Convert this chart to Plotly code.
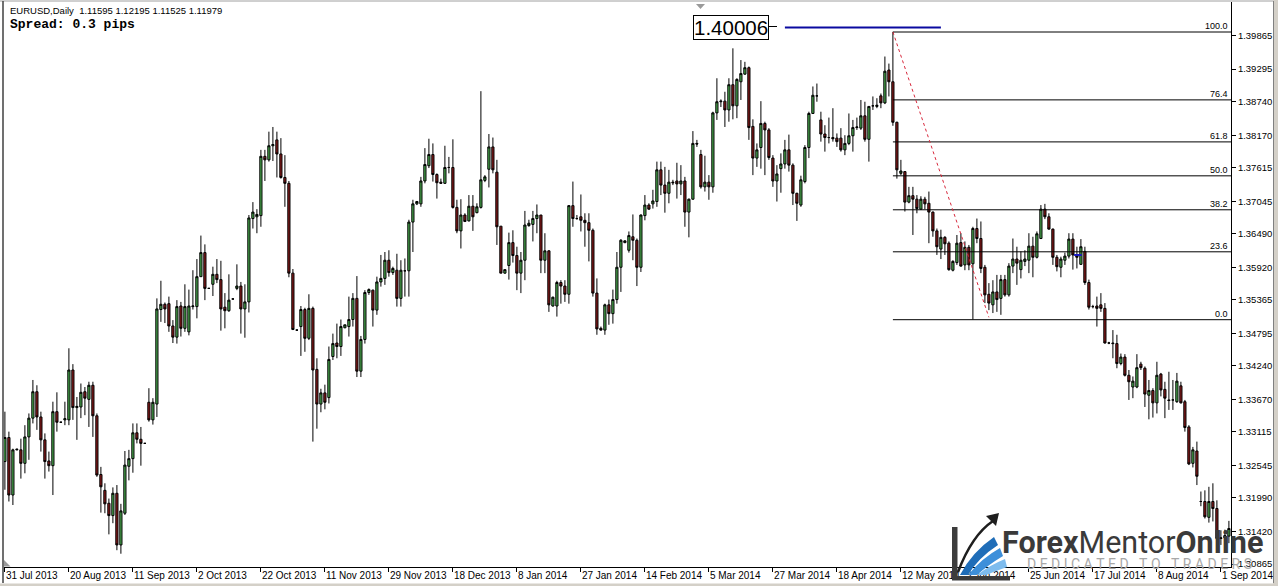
import plotly.graph_objects as go

# ---------------- data (EURUSD daily) ----------------
open_ = [
1.3261,1.3302,1.3204,1.3281,1.3281,1.3258,1.3303,1.3335,1.3380,1.3337,
1.3298,1.3262,1.3254,1.3346,1.3328,1.3332,1.3332,1.3417,1.3353,1.3354,
1.3380,1.3367,1.3391,1.3339,1.3239,1.3212,1.3190,1.3169,1.3207,1.3119,
1.3173,1.3253,1.3266,1.3310,1.3299,1.3292,1.3362,1.3332,1.3359,1.3520,
1.3529,1.3530,1.3492,1.3473,1.3526,1.3488,1.3482,1.3525,1.3525,1.3576,
1.3617,1.3556,1.3563,1.3580,1.3571,1.3524,1.3518,1.3538,1.3556,1.3560,
1.3521,1.3533,1.3675,1.3678,1.3680,1.3781,1.3775,1.3799,1.3809,1.3785,
1.3745,1.3735,1.3582,1.3485,1.3491,1.3520,1.3471,1.3522,1.3418,1.3359,
1.3378,1.3370,1.3440,1.3463,1.3457,1.3489,1.3491,1.3503,1.3539,1.3415,
1.3469,1.3549,1.3553,1.3519,1.3567,1.3573,1.3604,1.3583,1.3587,1.3539,
1.3586,1.3586,1.3669,1.3700,1.3700,1.3739,1.3765,1.3784,1.3750,1.3737,
1.3735,1.3762,1.3762,1.3694,1.3654,1.3681,1.3671,1.3696,1.3685,1.3694,
1.3740,1.3759,1.3797,1.3754,1.3662,1.3582,1.3595,1.3634,1.3612,1.3582,
1.3604,1.3663,1.3665,1.3675,1.3681,1.3604,1.3620,1.3526,1.3526,1.3566,
1.3560,1.3546,1.3697,1.3675,1.3678,1.3672,1.3668,1.3655,1.3548,1.3488,
1.3485,1.3528,1.3513,1.3537,1.3592,1.3634,1.3621,1.3644,1.3638,1.3592,
1.3680,1.3698,1.3700,1.3704,1.3758,1.3732,1.3718,1.3737,1.3739,1.3734,
1.3739,1.3686,1.3708,1.3803,1.3784,1.3729,1.3737,1.3729,1.3855,1.3874,
1.3875,1.3860,1.3903,1.3867,1.3908,1.3921,1.3932,1.3832,1.3778,1.3796,
1.3837,1.3826,1.3778,1.3739,1.3760,1.3768,1.3792,1.3766,1.3718,1.3698,
1.3738,1.3796,1.3854,1.3884,1.3843,1.3819,1.3813,1.3813,1.3812,1.3812,
1.3792,1.3803,1.3816,1.3830,1.3829,1.3850,1.3810,1.3867,1.3866,1.3884,
1.3872,1.3928,1.3908,1.3839,1.3752,1.3755,1.3703,1.3714,1.3708,1.3691,
1.3708,1.3701,1.3686,1.3654,1.3623,1.3643,1.3633,1.3587,1.3600,1.3634,
1.3596,1.3626,1.3598,1.3658,1.3641,1.3592,1.3546,1.3528,1.3550,1.3539,
1.3571,1.3545,1.3594,1.3606,1.3588,1.3602,1.3604,1.3628,1.3609,1.3641,
1.3691,1.3678,1.3657,1.3609,1.3592,1.3604,1.3611,1.3640,1.3613,1.3597,
1.3619,1.3566,1.3525,1.3526,1.3528,1.3522,1.3463,1.3463,1.3462,1.3428,
1.3439,1.3408,1.3388,1.3388,1.3427,1.3420,1.3374,1.3382,1.3361,1.3410,
1.3384,1.3366,1.3366,1.3363,1.3390,1.3363,1.3320,1.3258,1.3279,1.3193,
1.3193,1.3166,1.3193,1.3181,1.3130,1.3131,1.3134]

high = [
1.3346,1.3312,1.3283,1.3283,1.3300,1.3323,1.3343,1.3400,1.3391,1.3346,
1.3309,1.3278,1.3363,1.3379,1.3329,1.3363,1.3454,1.3427,1.3371,1.3394,
1.3388,1.3397,1.3397,1.3343,1.3252,1.3224,1.3198,1.3217,1.3221,1.3189,
1.3279,1.3281,1.3326,1.3326,1.3320,1.3293,1.3386,1.3369,1.3539,1.3569,
1.3532,1.3542,1.3502,1.3536,1.3533,1.3563,1.3554,1.3587,1.3606,1.3646,
1.3631,1.3557,1.3593,1.3606,1.3603,1.3548,1.3580,1.3539,1.3597,1.3567,
1.3563,1.3681,1.3703,1.3691,1.3792,1.3792,1.3823,1.3831,1.3823,1.3812,
1.3783,1.3739,1.3589,1.3486,1.3526,1.3523,1.3546,1.3525,1.3437,1.3385,
1.3392,1.3457,1.3479,1.3496,1.3503,1.3494,1.3542,1.3548,1.3577,1.3475,
1.3553,1.3556,1.3554,1.3576,1.3613,1.3618,1.3621,1.3593,1.3615,1.3604,
1.3607,1.3673,1.3707,1.3705,1.3746,1.3795,1.3811,1.3803,1.3752,1.3743,
1.3799,1.3780,1.3810,1.3707,1.3708,1.3684,1.3715,1.3715,1.3701,1.3892,
1.3749,1.3819,1.3813,1.3775,1.3662,1.3588,1.3651,1.3655,1.3627,1.3618,
1.3688,1.3673,1.3688,1.3699,1.3681,1.3650,1.3621,1.3542,1.3569,1.3570,
1.3570,1.3698,1.3738,1.3681,1.3716,1.3684,1.3684,1.3658,1.3573,1.3491,
1.3530,1.3537,1.3554,1.3618,1.3640,1.3638,1.3653,1.3682,1.3641,1.3682,
1.3715,1.3701,1.3724,1.3772,1.3772,1.3763,1.3758,1.3741,1.3770,1.3766,
1.3746,1.3709,1.3824,1.3809,1.3792,1.3782,1.3749,1.3857,1.3914,1.3878,
1.3891,1.3914,1.3965,1.3914,1.3945,1.3942,1.3934,1.3844,1.3803,1.3875,
1.3840,1.3829,1.3783,1.3766,1.3786,1.3809,1.3818,1.3769,1.3719,1.3748,
1.3800,1.3857,1.3900,1.3905,1.3857,1.3834,1.3847,1.3863,1.3820,1.3829,
1.3817,1.3854,1.3843,1.3847,1.3877,1.3874,1.3866,1.3883,1.3880,1.3888,
1.3951,1.3939,1.3993,1.3840,1.3775,1.3755,1.3729,1.3729,1.3715,1.3713,
1.3712,1.3721,1.3687,1.3658,1.3656,1.3645,1.3636,1.3604,1.3647,1.3650,
1.3636,1.3630,1.3661,1.3675,1.3670,1.3596,1.3565,1.3570,1.3579,1.3579,
1.3579,1.3599,1.3641,1.3627,1.3619,1.3621,1.3650,1.3644,1.3653,1.3698,
1.3700,1.3684,1.3658,1.3613,1.3610,1.3617,1.3650,1.3650,1.3627,1.3640,
1.3627,1.3571,1.3528,1.3542,1.3548,1.3531,1.3465,1.3485,1.3477,1.3445,
1.3444,1.3417,1.3406,1.3444,1.3431,1.3423,1.3400,1.3386,1.3431,1.3412,
1.3397,1.3414,1.3400,1.3412,1.3397,1.3366,1.3323,1.3286,1.3295,1.3210,
1.3212,1.3218,1.3224,1.3195,1.3144,1.3145,1.3160]

low = [
1.3213,1.3193,1.3187,1.3280,1.3232,1.3241,1.3264,1.3326,1.3315,1.3278,
1.3232,1.3244,1.3204,1.3312,1.3327,1.3323,1.3323,1.3332,1.3298,1.3335,
1.3340,1.3320,1.3303,1.3235,1.3174,1.3173,1.3137,1.3156,1.3110,1.3104,
1.3170,1.3229,1.3242,1.3292,1.3254,1.3291,1.3329,1.3324,1.3337,1.3499,
1.3497,1.3482,1.3463,1.3462,1.3474,1.3482,1.3476,1.3520,1.3505,1.3576,
1.3536,1.3555,1.3543,1.3565,1.3484,1.3488,1.3516,1.3537,1.3553,1.3479,
1.3472,1.3515,1.3658,1.3650,1.3661,1.3739,1.3772,1.3773,1.3745,1.3743,
1.3695,1.3575,1.3485,1.3484,1.3441,1.3448,1.3468,1.3295,1.3317,1.3345,
1.3350,1.3360,1.3434,1.3437,1.3441,1.3488,1.3474,1.3491,1.3405,1.3405,
1.3462,1.3545,1.3491,1.3511,1.3559,1.3562,1.3576,1.3579,1.3525,1.3525,
1.3542,1.3542,1.3618,1.3698,1.3695,1.3735,1.3761,1.3738,1.3709,1.3735,
1.3734,1.3752,1.3692,1.3650,1.3624,1.3669,1.3670,1.3654,1.3684,1.3692,
1.3737,1.3728,1.3752,1.3630,1.3582,1.3581,1.3571,1.3600,1.3553,1.3548,
1.3570,1.3661,1.3636,1.3650,1.3582,1.3582,1.3516,1.3525,1.3508,1.3530,
1.3533,1.3530,1.3661,1.3673,1.3653,1.3627,1.3602,1.3542,1.3477,1.3484,
1.3477,1.3494,1.3496,1.3530,1.3550,1.3633,1.3617,1.3604,1.3560,1.3584,
1.3672,1.3690,1.3692,1.3695,1.3715,1.3685,1.3701,1.3732,1.3709,1.3715,
1.3661,1.3643,1.3707,1.3797,1.3726,1.3721,1.3707,1.3719,1.3843,1.3865,
1.3831,1.3840,1.3844,1.3846,1.3877,1.3920,1.3809,1.3749,1.3763,1.3760,
1.3749,1.3775,1.3729,1.3704,1.3719,1.3760,1.3755,1.3698,1.3671,1.3695,
1.3735,1.3778,1.3854,1.3874,1.3806,1.3789,1.3803,1.3806,1.3797,1.3789,
1.3783,1.3800,1.3789,1.3826,1.3826,1.3806,1.3772,1.3860,1.3863,1.3863,
1.3870,1.3883,1.3833,1.3743,1.3749,1.3687,1.3701,1.3647,1.3684,1.3690,
1.3691,1.3633,1.3644,1.3613,1.3606,1.3613,1.3586,1.3585,1.3596,1.3593,
1.3587,1.3587,1.3503,1.3633,1.3582,1.3531,1.3519,1.3514,1.3516,1.3511,
1.3542,1.3542,1.3582,1.3562,1.3573,1.3594,1.3582,1.3575,1.3607,1.3640,
1.3674,1.3656,1.3596,1.3585,1.3575,1.3596,1.3607,1.3588,1.3590,1.3596,
1.3562,1.3520,1.3522,1.3491,1.3516,1.3462,1.3461,1.3437,1.3420,1.3425,
1.3406,1.3366,1.3369,1.3386,1.3417,1.3354,1.3333,1.3336,1.3343,1.3372,
1.3335,1.3349,1.3349,1.3361,1.3360,1.3312,1.3255,1.3251,1.3221,1.3185,
1.3164,1.3157,1.3159,1.3128,1.3119,1.3120,1.3122]

close = [
1.3302,1.3204,1.3281,1.3282,1.3258,1.3303,1.3335,1.3380,1.3337,1.3298,
1.3261,1.3254,1.3346,1.3328,1.3328,1.3334,1.3417,1.3353,1.3355,1.3379,
1.3369,1.3391,1.3339,1.3238,1.3218,1.3189,1.3169,1.3207,1.3119,1.3177,
1.3255,1.3266,1.3310,1.3299,1.3292,1.3292,1.3332,1.3362,1.3521,1.3529,
1.3521,1.3492,1.3473,1.3525,1.3488,1.3525,1.3526,1.3526,1.3576,1.3617,
1.3556,1.3556,1.3580,1.3571,1.3521,1.3518,1.3536,1.3538,1.3560,1.3521,
1.3533,1.3676,1.3686,1.3682,1.3781,1.3775,1.3799,1.3801,1.3785,1.3745,
1.3735,1.3582,1.3486,1.3485,1.3520,1.3471,1.3522,1.3417,1.3359,1.3378,
1.3362,1.3435,1.3462,1.3457,1.3491,1.3494,1.3503,1.3539,1.3415,1.3469,
1.3549,1.3554,1.3519,1.3567,1.3573,1.3604,1.3583,1.3590,1.3539,1.3587,
1.3586,1.3669,1.3700,1.3704,1.3739,1.3767,1.3784,1.3750,1.3736,1.3735,
1.3762,1.3762,1.3694,1.3654,1.3681,1.3670,1.3696,1.3678,1.3695,1.3741,
1.3746,1.3797,1.3758,1.3661,1.3582,1.3588,1.3634,1.3612,1.3582,1.3604,
1.3664,1.3667,1.3675,1.3681,1.3604,1.3620,1.3528,1.3541,1.3566,1.3560,
1.3546,1.3697,1.3675,1.3675,1.3672,1.3668,1.3655,1.3548,1.3487,1.3485,
1.3528,1.3513,1.3537,1.3592,1.3638,1.3637,1.3646,1.3638,1.3592,1.3681,
1.3698,1.3691,1.3705,1.3758,1.3732,1.3718,1.3737,1.3736,1.3734,1.3739,
1.3686,1.3708,1.3803,1.3802,1.3729,1.3737,1.3729,1.3855,1.3874,1.3875,
1.3860,1.3903,1.3867,1.3912,1.3922,1.3932,1.3830,1.3778,1.3792,1.3837,
1.3826,1.3779,1.3739,1.3751,1.3768,1.3792,1.3766,1.3718,1.3701,1.3741,
1.3796,1.3854,1.3885,1.3884,1.3819,1.3813,1.3813,1.3811,1.3806,1.3792,
1.3803,1.3816,1.3830,1.3831,1.3850,1.3810,1.3866,1.3867,1.3868,1.3872,
1.3926,1.3908,1.3839,1.3758,1.3756,1.3703,1.3714,1.3708,1.3692,1.3708,
1.3700,1.3686,1.3654,1.3627,1.3643,1.3632,1.3588,1.3602,1.3633,1.3594,
1.3626,1.3596,1.3658,1.3641,1.3590,1.3545,1.3531,1.3550,1.3537,1.3571,
1.3545,1.3594,1.3606,1.3599,1.3604,1.3606,1.3628,1.3609,1.3649,1.3691,
1.3678,1.3657,1.3609,1.3593,1.3606,1.3611,1.3640,1.3613,1.3609,1.3627,
1.3566,1.3524,1.3525,1.3522,1.3522,1.3463,1.3463,1.3462,1.3428,1.3439,
1.3408,1.3397,1.3398,1.3421,1.3421,1.3376,1.3382,1.3361,1.3408,1.3383,
1.3369,1.3365,1.3366,1.3398,1.3361,1.3319,1.3257,1.3281,1.3236,1.3193,
1.3167,1.3193,1.3181,1.3130,1.3131,1.3135,1.3147]

date_labels = ["31 Jul 2013", "20 Aug 2013", "11 Sep 2013", "2 Oct 2013", "22 Oct 2013",
               "11 Nov 2013", "29 Nov 2013", "18 Dec 2013", "8 Jan 2014", "27 Jan 2014",
               "14 Feb 2014", "5 Mar 2014", "27 Mar 2014", "18 Apr 2014", "12 May 2014",
               "3 Jun 2014", "25 Jun 2014", "17 Jul 2014", "8 Aug 2014", "1 Sep 2014"]
label_step = 16

price_ticks = [1.39865, 1.39295, 1.38740, 1.38170, 1.37615, 1.37045, 1.36490, 1.35920,
               1.35365, 1.34795, 1.34240, 1.33670, 1.33115, 1.32545, 1.31990, 1.31420, 1.30865]

fib_high = 1.39928
fib_low = 1.35027
fib_ratios = [100.0, 76.4, 61.8, 50.0, 38.2, 23.6, 0.0]
fib_start_bar = 222
fib_end_bar = 246

hline_price = 1.40006
hline_bars = [195, 234]

header_text = "EURUSD,Daily  1.11595 1.12195 1.11525 1.11979"
spread_text = "Spread: 0.3 pips"
logo_text = "<b>Forex</b>Mentor<b>Online</b>"
tagline_words = ["DEDICATED", "TO", "TRADERS"]

# ---------------- geometry helpers (pixel -> paper) ----------------
W, H = 1278, 586
ML, MR, MT, MB = 4, 47, 2, 19
PW = W - ML - MR
PH = H - MT - MB


def fx(px):
    return (px - ML) / PW


def fy(py):
    return (H - MB - py) / PH


n = len(close)
xs = list(range(n))

fig = go.Figure()
fig.add_trace(go.Candlestick(
    x=xs, open=open_, high=high, low=low, close=close,
    increasing=dict(line=dict(color="#000000", width=1), fillcolor="#4CB050"),
    decreasing=dict(line=dict(color="#000000", width=1), fillcolor="#8B1A1A"),
    whiskerwidth=0, hoverinfo="skip", showlegend=False,
))

shapes = []
annotations = []

# Fibonacci levels
span = fib_high - fib_low
for r in fib_ratios:
    p = fib_low + span * r / 100.0
    shapes.append(dict(type="line", xref="x", yref="y", x0=fib_start_bar, x1=306.6,
                       y0=p, y1=p, line=dict(color="#000000", width=1)))
    annotations.append(dict(xref="x", yref="y", x=306.3, y=p, text=f"{r:.1f}",
                            xanchor="right", yanchor="bottom", showarrow=False,
                            font=dict(family="Liberation Sans, Arial", size=9, color="#000000"),
                            yshift=-1))
# fib trend line (red dotted)
shapes.append(dict(type="line", xref="x", yref="y", x0=fib_start_bar, y0=fib_high,
                   x1=fib_end_bar, y1=fib_low + 0.0004,
                   line=dict(color="#D8283C", width=1, dash="dot")))

# blue horizontal line + price label
shapes.append(dict(type="line", xref="x", yref="y", x0=hline_bars[0], x1=hline_bars[1],
                   y0=hline_price, y1=hline_price, line=dict(color="#0A0AA0", width=2)))
shapes.append(dict(type="line", xref="paper", yref="paper", x0=fx(767), x1=fx(777),
                   y0=fy(26.5), y1=fy(26.5), line=dict(color="#000000", width=1)))
annotations.append(dict(xref="paper", yref="paper", x=fx(730.5), y=fy(27.5),
                        text="1.40006", showarrow=False, xanchor="center", yanchor="middle",
                        font=dict(family="Liberation Sans Narrow, Arial Narrow, Liberation Sans",
                                  size=20.5, color="#000000"),
                        bgcolor="#FFFFFF", bordercolor="#000000", borderwidth=1, borderpad=0))

# small blue dash object
shapes.append(dict(type="line", xref="x", yref="y", x0=267.3, x1=269.2, y0=1.36129, y1=1.36129,
                   line=dict(color="#1A1AC0", width=2)))

# MT4 small markers
shapes.append(dict(type="path", xref="paper", yref="paper",
                   path=f"M {fx(696)},{fy(4)} L {fx(705)},{fy(4)} L {fx(700.5)},{fy(9)} Z",
                   fillcolor="#9A9A9A", line=dict(width=0)))
shapes.append(dict(type="path", xref="paper", yref="paper",
                   path=f"M {fx(4)},{fy(560)} L {fx(4)},{fy(566.5)} L {fx(10.5)},{fy(566.5)} Z",
                   fillcolor="#9A9A9A", line=dict(width=0)))

# window frame
shapes.append(dict(type="line", xref="paper", yref="paper", x0=fx(0), x1=fx(1274),
                   y0=fy(1), y1=fy(1), line=dict(color="#A0A0A0", width=1)))
shapes.append(dict(type="line", xref="paper", yref="paper", x0=fx(3), x1=fx(3),
                   y0=fy(1), y1=fy(583), line=dict(color="#404040", width=1.5)))
shapes.append(dict(type="rect", xref="paper", yref="paper", x0=fx(1273), x1=fx(1280),
                   y0=fy(-2), y1=fy(590), fillcolor="#D4D0C8", line=dict(width=0)))
shapes.append(dict(type="line", xref="paper", yref="paper", x0=fx(1273.5), x1=fx(1273.5),
                   y0=fy(1), y1=fy(583), line=dict(color="#808080", width=1)))
shapes.append(dict(type="rect", xref="paper", yref="paper", x0=fx(-2), x1=fx(1280),
                   y0=fy(583.5), y1=fy(590), fillcolor="#D4D0C8", line=dict(width=0)))

# header texts
annotations.append(dict(xref="paper", yref="paper", x=fx(8), y=fy(11), text=header_text,
                        showarrow=False, xanchor="left", yanchor="middle",
                        font=dict(family="Liberation Sans, Arial", size=9.5, color="#000000")))
annotations.append(dict(xref="paper", yref="paper", x=fx(7.5), y=fy(24.5),
                        text=f"<b>{spread_text}</b>", showarrow=False, xanchor="left",
                        yanchor="middle",
                        font=dict(family="Liberation Mono, Courier New", size=13, color="#000000")))

# watermark logo
shapes.append(dict(type="rect", xref="paper", yref="paper", x0=fx(952), x1=fx(957.5),
                   y0=fy(580), y1=fy(527), fillcolor="#3C3C3C", line=dict(width=0)))
shapes.append(dict(type="rect", xref="paper", yref="paper", x0=fx(952), x1=fx(1010),
                   y0=fy(580.5), y1=fy(576), fillcolor="#3C3C3C", line=dict(width=0)))
swoosh = [
    ((960, 575), (972, 552), (994, 537), (998, 545), (978, 558), (968, 575), "#1F6DB8"),
    ((968, 575), (982, 558), (1000, 548), (1003, 556), (988, 565), (977, 575), "#3D8FDA"),
    ((977, 575), (990, 565), (1005, 559), (1007, 567), (996, 571), (986, 575), "#7EBCEE"),
]
for a, c1, b, d, c2, e, col in swoosh:
    path = (f"M {fx(a[0])},{fy(a[1])} Q {fx(c1[0])},{fy(c1[1])} {fx(b[0])},{fy(b[1])} "
            f"L {fx(d[0])},{fy(d[1])} Q {fx(c2[0])},{fy(c2[1])} {fx(e[0])},{fy(e[1])} Z")
    shapes.append(dict(type="path", xref="paper", yref="paper", path=path,
                       fillcolor=col, line=dict(width=0)))
shapes.append(dict(type="path", xref="paper", yref="paper",
                   path=f"M {fx(958)},{fy(572)} Q {fx(972)},{fy(535)} {fx(993)},{fy(521)}",
                   line=dict(color="#1E1E1E", width=2.5)))
shapes.append(dict(type="path", xref="paper", yref="paper",
                   path=f"M {fx(986)},{fy(516)} L {fx(999)},{fy(513)} L {fx(996)},{fy(526)} Z",
                   fillcolor="#1E1E1E", line=dict(width=0)))
annotations.append(dict(xref="paper", yref="paper", x=fx(1000), y=fy(542),
                        text=logo_text, showarrow=False,
                        xanchor="left", yanchor="middle",
                        font=dict(family="Roboto, Open Sans, sans-serif", size=30.5, color="#3A3A3A")))
nb = "\u00a0"
tagline = (nb * 3).join(nb.join(list(w)) for w in tagline_words)
annotations.append(dict(xref="paper", yref="paper", x=fx(1025), y=fy(563.5),
                        text=tagline, showarrow=False,
                        xanchor="left", yanchor="middle",
                        font=dict(family="Roboto, Open Sans, sans-serif", size=14,
                                  color="#A8A8A8")))

tick_pos = [i * label_step for i in range(len(date_labels))]

fig.update_layout(
    width=W, height=H,
    margin=dict(l=ML, r=MR, t=MT, b=MB, pad=0),
    template="none",
    paper_bgcolor="#FFFFFF", plot_bgcolor="#FFFFFF",
    showlegend=False, hovermode=False,
    boxgap=0.22,
    shapes=shapes, annotations=annotations,
    xaxis=dict(
        range=[-0.225, n - 0.475], showgrid=False, zeroline=False,
        showline=True, linecolor="#000000", linewidth=1, mirror=False,
        ticks="outside", ticklen=4, tickcolor="#000000", tickwidth=1,
        tickvals=tick_pos, ticktext=date_labels,
        ticklabelposition="outside right",
        tickangle=0,
        ticklabelstandoff=-1,
        tickfont=dict(family="Liberation Sans, Arial", size=10, color="#000000"),
        rangeslider=dict(visible=False), automargin=False, fixedrange=True,
    ),
    yaxis=dict(
        range=[1.30814, 1.40439], side="right", showgrid=False, zeroline=False,
        showline=True, linecolor="#000000", linewidth=1,
        ticks="outside", ticklen=4, tickcolor="#000000", tickwidth=1,
        tickvals=price_ticks, ticktext=[f"{v:.5f}" for v in price_ticks],
        tickfont=dict(family="Liberation Sans, Arial", size=9.5, color="#000000"),
        automargin=False, fixedrange=True,
    ),
)

fig.write_html(
    "out.html",
    config={"displayModeBar": False},
    post_script="document.body.style.margin='0px'; document.body.style.overflow='hidden';",
)
